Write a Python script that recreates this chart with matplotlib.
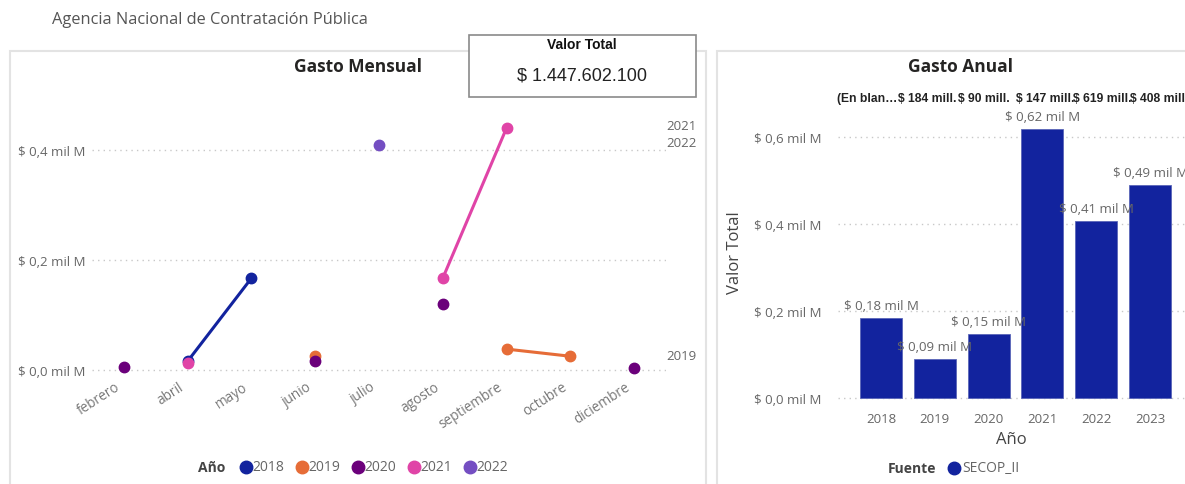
#!/usr/bin/env python
"""Gasto mensual / anual dashboard recreation."""
import matplotlib
matplotlib.use("Agg")
import matplotlib.pyplot as plt
import matplotlib.transforms as mtransforms
from matplotlib.patches import Rectangle
from matplotlib.lines import Line2D
import numpy as np

nan = np.nan
MESES = ["febrero", "abril", "mayo", "junio", "julio", "agosto",
         "septiembre", "octubre", "diciembre"]
YEARS = ["2018", "2019", "2020", "2021", "2022"]
# monthly spend, mil M (thousands of millions)
G2018 = [nan, 0.016, 0.167, nan, nan, nan, nan, nan, nan]
G2019 = [nan, nan, nan, 0.025, nan, nan, 0.038, 0.025, nan]
G2020 = [0.005, nan, nan, 0.016, nan, 0.120, nan, nan, 0.003]
G2021 = [nan, 0.013, nan, nan, nan, 0.167, 0.440, nan, nan]
G2022 = [nan, nan, nan, nan, 0.409, nan, nan, nan, nan]
END_LABELS = ["2021", "2022", "2019"]
END_LABEL_Y = [0.444, 0.413, 0.027]

ANIOS = ["2018", "2019", "2020", "2021", "2022", "2023"]
ANUAL = [0.184, 0.090, 0.147, 0.619, 0.408, 0.490]
ANUAL_LBL = ["$ 0,18 mil M", "$ 0,09 mil M", "$ 0,15 mil M",
             "$ 0,62 mil M", "$ 0,41 mil M", "$ 0,49 mil M"]
TOP_LBL = ["(En blan…", "$ 184 mill.", "$ 90 mill.", "$ 147 mill.",
           "$ 619 mill.", "$ 408 mill"]
TOTAL = "$ 1.447.602.100"

COLORS = {"2018": "#12239E", "2019": "#E66C37", "2020": "#6B007B",
          "2021": "#E044A7", "2022": "#744EC2"}
BAR_COLOR = "#12239E"
GRAY = "#666666"
DARK = "#252423"
FONT = "Open Sans"

W, H = 1185, 485
fig = plt.figure(figsize=(W / 100, H / 100), dpi=100)
fig.patch.set_facecolor("white")


def px(l, t, r, b):
    return [l / W, 1 - b / H, (r - l) / W, (b - t) / H]


def fx(x):
    return x / W


def fy(y):
    return 1 - y / H


# header + panel borders
fig.text(fx(52), fy(20), "Agencia Nacional de Contratación Pública",
         fontsize=11.8, color="#555555", family=FONT, va="center")
for l, r in [(10, 706), (717, 1190)]:
    fig.patches.append(Rectangle((fx(l), fy(490)), fx(r - l), fy(52) - fy(490),
                                 transform=fig.transFigure, fill=False,
                                 edgecolor="#e3e3e3", lw=1.5))

# ---- left: monthly line chart
ax = fig.add_axes(px(92, 110, 666, 385))
x = np.arange(len(MESES))
for yr, vals in zip(YEARS, [G2018, G2019, G2020, G2021, G2022]):
    ax.plot(x, vals, color=COLORS[yr], lw=2.2, marker="o", ms=7.5,
            solid_capstyle="round")
ax.set_xlim(-0.5, len(MESES) - 0.5)
ax.set_ylim((371 - 385) / 550, (371 - 110) / 550)
ax.set_yticks([0, 0.2, 0.4])
ax.set_yticklabels(["$ 0,0 mil M", "$ 0,2 mil M", "$ 0,4 mil M"])
ax.set_xticks(x)
ax.set_xticklabels(MESES, rotation=33, ha="right", va="center",
                   rotation_mode="anchor")
ax.tick_params(length=0, colors=GRAY, labelsize=9.5)
ax.tick_params(axis="x", labelcolor="#777777", labelsize=9.8)
ax.tick_params(axis="y", pad=5)
ax.tick_params(axis="x", pad=1)
shift = mtransforms.ScaledTranslation(-5 / 100, 0, fig.dpi_scale_trans)
for t in ax.get_xticklabels():
    t.set_transform(t.get_transform() + shift)
for t in ax.get_xticklabels() + ax.get_yticklabels():
    t.set_family(FONT)
ax.grid(axis="y", ls=(0, (1, 3)), color="#c8c8c8", lw=1)
ax.set_axisbelow(True)
for s in ax.spines.values():
    s.set_visible(False)
for lbl, yv in zip(END_LABELS, END_LABEL_Y):
    ax.text(1.0, yv, lbl, transform=ax.get_yaxis_transform(), ha="left",
            va="center", fontsize=9.5, color=GRAY, family=FONT)
fig.text(fx(358), fy(67), "Gasto Mensual", fontsize=12.5, weight="bold",
         color=DARK, ha="center", va="center", family=FONT)

# legend Año
fig.text(fx(198), fy(468), "Año", fontsize=10, weight="bold", color="#444444",
         va="center", family=FONT)
for i, yr in enumerate(YEARS):
    mx = 246 + i * 56
    fig.lines.append(Line2D([fx(mx)], [fy(468)], marker="o", ms=9,
                            color=COLORS[yr], transform=fig.transFigure))
    fig.text(fx(mx + 6), fy(468), yr, fontsize=10, color=GRAY, va="center",
             family=FONT)

# Valor Total card
fig.patches.append(Rectangle((fx(469), fy(98)), fx(696 - 469), fy(36) - fy(98),
                             transform=fig.transFigure, facecolor="white",
                             edgecolor="#8a8a8a", lw=1.2, zorder=5))
fig.text(fx(582), fy(45), "Valor Total", fontsize=10, weight="bold",
         color="#111111", ha="center", va="center", family="Liberation Sans",
         zorder=6)
fig.text(fx(582), fy(76), TOTAL, fontsize=13, color="#222222", ha="center",
         va="center", family="Liberation Sans", zorder=6)

# ---- right: annual bar chart
bx = fig.add_axes(px(838, 100, 1185, 405))
xb = np.arange(len(ANIOS))
bars = bx.bar(xb, ANUAL, width=0.78, color=BAR_COLOR, edgecolor="#5a66b8",
              lw=0.6)
bx.set_xlim(-0.8, 5.65)
bx.set_ylim((399 - 405) / 435, (399 - 100) / 435)
bx.set_yticks([0, 0.2, 0.4, 0.6])
bx.set_yticklabels(["$ 0,0 mil M", "$ 0,2 mil M", "$ 0,4 mil M", "$ 0,6 mil M"])
bx.set_xticks(xb)
bx.set_xticklabels(ANIOS)
bx.tick_params(length=0, colors=GRAY, labelsize=9.5)
bx.tick_params(axis="y", pad=12)
bx.tick_params(axis="x", pad=6)
for t in bx.get_xticklabels() + bx.get_yticklabels():
    t.set_family(FONT)
bx.grid(axis="y", ls=(0, (1, 3)), color="#c8c8c8", lw=1)
bx.set_axisbelow(True)
for s in bx.spines.values():
    s.set_visible(False)
for xi, v, lbl in zip(xb, ANUAL, ANUAL_LBL):
    bx.annotate(lbl, (xi, v), xytext=(0, 4), textcoords="offset points",
                ha="center", va="bottom", fontsize=9.5, color=GRAY,
                family=FONT, annotation_clip=False)
bx.set_xlabel("Año", fontsize=12, color="#444444", family=FONT, labelpad=4)
bx.set_ylabel("Valor Total", fontsize=12, color="#444444", family=FONT,
              labelpad=8)
for lx, lbl in zip([837, 898, 958, 1016, 1073, 1130], TOP_LBL):
    fig.text(fx(lx), fy(99), lbl, fontsize=8.7, weight="bold",
             color="#222222", va="center", family="Liberation Sans")
fig.text(fx(960), fy(67), "Gasto Anual", fontsize=12.5, weight="bold",
         color=DARK, ha="center", va="center", family=FONT)

# legend Fuente
fig.text(fx(888), fy(469), "Fuente", fontsize=10, weight="bold",
         color="#444444", va="center", family=FONT)
fig.lines.append(Line2D([fx(954)], [fy(469)], marker="o", ms=9,
                        color=BAR_COLOR, transform=fig.transFigure))
fig.text(fx(962), fy(469), "SECOP_II", fontsize=10, color=GRAY, va="center",
         family=FONT)

fig.savefig("out.png", dpi=100)
